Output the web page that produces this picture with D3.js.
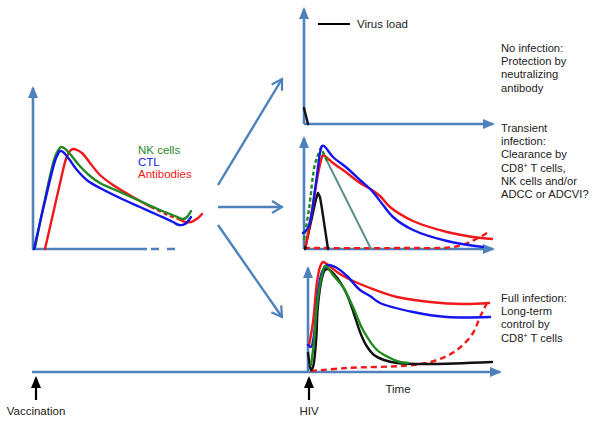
<!DOCTYPE html>
<html><head><meta charset="utf-8">
<script src="https://cdn.jsdelivr.net/npm/d3@7"></script>
<style>html,body{margin:0;padding:0;background:#fff;}svg{display:block;font-family:"Liberation Sans",Arial,Helvetica,sans-serif;}</style>
</head><body>
<svg id="c" width="600" height="422"></svg>
<script>
// ---- DATA (time offset, level) ----
// Vaccination panel
const vacNK   = [[2,1],[12,50],[22,92],[26,100],[28,102],[31,101],[37,95],[45,85],[57,73],[67,66],[87,57],[107,48],[127,39],[142,33],[150,30],[154,32],[158,38]];
const vacCTL  = [[1,0],[12,48],[22,88],[25,95],[27,98],[30,97],[36,90],[44,79],[55,68],[67,61],[87,51],[107,42],[127,33],[140,27],[146,24],[152,25],[158,32]];
const vacAbA  = [[12,0],[20,35],[28,70],[33,90],[37,98],[40,100],[44,99],[50,95],[57,86],[67,74],[80,64],[100,52],[118,42]];
const vacAbB  = [[118,42],[135,34],[148,29]];
const vacAbC  = [[148,29],[152,27],[158,27],[165,31],[169,35]];
// No infection panel
const noVirus = [[0,16],[4,0]];
// Transient infection panel
const trCTL   = [[-1,16],[4,21],[11,59],[16,96],[18,103],[20,103],[29,92],[43,81],[56,69],[68,58],[79,44],[89,32],[109,19],[143,8],[179,2]];
const trAb    = [[2,4],[8,38],[14,75],[18,92],[19,94],[21,93],[29,86],[43,76],[56,66],[68,59],[76,53],[86,42],[109,28],[143,17],[169,12],[188,10]];
const trNK    = [[0,9],[5,40],[11,85],[16,99],[17,101],[19,97],[23,88]];
const trNKdecline = [[23,88],[67,0]];
const trVirus = [[1,0],[12,50],[14,56],[16,52],[18,40],[24,0]];
const trAbLate = [[0,1],[100,1],[149,2],[166,7],[183,16]];
// Full infection panel
const fiAb    = [[1,26],[5,50],[9,90],[12,105],[15,110],[20,107],[29,100],[39,94],[62,84],[89,75],[122,70],[155,68],[181,69]];
const fiCTL   = [[0,27],[3,25],[6,37],[10,80],[14,100],[18,106],[20,107],[29,104],[39,96],[52,82],[62,76],[72,69],[105,60],[139,55],[182,55]];
const fiNK    = [[3,7],[6,30],[9,67],[14,97],[17,106],[20,104],[25,97],[35,85],[45,65],[55,42],[69,22],[82,14],[92,10],[100,9]];
const fiVirus = [[0,19],[1,12],[3,2],[5,5],[8,30],[10,67],[14,94],[17,102],[20,103],[26,98],[34,87],[40,75],[46,58],[52,40],[58,27],[66,17],[76,12],[89,9],[122,8],[184,10]];
const fiAbLate = [[3,1],[39,4],[105,7],[129,12],[149,22],[165,39],[172,55],[179,69]];
// Texts
const legendLabels = ["NK cells","CTL","Antibodies"];
const virusLabel = "Virus load";
const outcomeTexts = [
  ["No infection:","Protection by","neutralizing","antibody"],
  ["Transient","infection:","Clearance by","CD8|+| T cells,","NK cells and/or","ADCC or ADCVI?"],
  ["Full infection:","Long-term","control by","CD8|+| T cells"]
];
const eventLabels = ["Vaccination","HIV"];
const timeLabel = "Time";

// ---- STYLE ----
const C = {axis:"#4f81bd", nk:"#1f8a1f", ctl:"#1414ee", ab:"#f01818", virus:"#111", teal:"#5f8f8f", text:"#222"};
const svg = d3.select("#c");
const defs = svg.append("defs");
function tri(id,color){
  defs.append("marker").attr("id",id).attr("markerUnits","userSpaceOnUse")
    .attr("viewBox","0 0 12 10").attr("markerWidth",12).attr("markerHeight",10)
    .attr("refX",10).attr("refY",5).attr("orient","auto")
    .append("path").attr("d","M0,0L12,5L0,10Z").attr("fill",color);
}
tri("ah",C.axis); tri("bh","#000");
defs.append("marker").attr("id","oh").attr("markerUnits","userSpaceOnUse")
  .attr("viewBox","-1 -1 14 14").attr("markerWidth",14).attr("markerHeight",14)
  .attr("refX",11).attr("refY",6).attr("orient","auto")
  .append("path").attr("d","M1,0L11,6L1,12").attr("fill","none").attr("stroke",C.axis).attr("stroke-width",2.2);

function panel(ox,oy){
  return {x:d3.scaleLinear().domain([0,200]).range([ox,ox+200]),
          y:d3.scaleLinear().domain([0,120]).range([oy,oy-120])};
}
const P = {vac:panel(33,249), no:panel(304,124), tr:panel(304,249), fi:panel(308,372)};

function axisLine(x1,y1,x2,y2,arrow,dash){
  const l = svg.append("line").attr("x1",x1).attr("y1",y1).attr("x2",x2).attr("y2",y2)
    .attr("stroke",C.axis).attr("stroke-width",2.6);
  if(arrow) l.attr("marker-end","url(#ah)");
  if(dash) l.attr("stroke-dasharray",dash);
  return l;
}
// axes: vaccination panel
axisLine(P.vac.x(0),P.vac.y(0),P.vac.x(0),88,true);
axisLine(P.vac.x(0)-1,P.vac.y(0),P.vac.x(114),P.vac.y(0),false);
axisLine(P.vac.x(118),P.vac.y(0),P.vac.x(147),P.vac.y(0),false,"8,8");
// no infection
axisLine(P.no.x(0),P.no.y(0),P.no.x(0),9,true);
axisLine(P.no.x(0),P.no.y(0),493,P.no.y(0),true);
// transient
axisLine(P.tr.x(0),P.tr.y(0),P.tr.x(0),138,true);
axisLine(P.tr.x(0),P.tr.y(0),493,P.tr.y(0),true);
// full infection + main time axis
axisLine(P.fi.x(0),P.fi.y(0),P.fi.x(0),268,true);
axisLine(32,372,500,372,true);

// branching arrows
[[218,185,282,79],[218,207,282,207],[218,225,282,317]].forEach(a=>{
  svg.append("line").attr("x1",a[0]).attr("y1",a[1]).attr("x2",a[2]).attr("y2",a[3])
    .attr("stroke",C.axis).attr("stroke-width",2.4).attr("marker-end","url(#oh)");
});

function curve(p,data,color,opt={}){
  const line = d3.line().x(d=>p.x(d[0])).y(d=>p.y(d[1])).curve(opt.linear?d3.curveLinear:d3.curveCatmullRom.alpha(0.5));
  const path = svg.append("path").datum(data).attr("d",line).attr("fill","none")
    .attr("stroke",color).attr("stroke-width",opt.w||2.4).attr("stroke-linejoin","round").attr("stroke-linecap","round");
  if(opt.dash) path.attr("stroke-dasharray",opt.dash).attr("stroke-linecap","butt");
  return path;
}
// vaccination curves
curve(P.vac,vacAbA,C.ab); curve(P.vac,vacAbB,C.ab,{dash:"4,3"}); curve(P.vac,vacAbC,C.ab);
curve(P.vac,vacNK,C.nk);
curve(P.vac,vacCTL,C.ctl);
// no infection
curve(P.no,noVirus,C.virus,{linear:true});
// transient
curve(P.tr,trAbLate,C.ab,{dash:"6,4",linear:false});
curve(P.tr,trNKdecline,C.teal,{linear:true,w:2});
curve(P.tr,trVirus,C.virus,{linear:true});
curve(P.tr,trAb,C.ab);
curve(P.tr,trNK,C.nk,{dash:"4,2.5"});
curve(P.tr,trCTL,C.ctl);
// full infection
curve(P.fi,fiAbLate,C.ab,{dash:"6,4"});
curve(P.fi,fiAb,C.ab);
curve(P.fi,fiCTL,C.ctl);
curve(P.fi,fiVirus,C.virus);
curve(P.fi,fiNK,C.nk);

// legend in vaccination panel
const lc=[C.nk,C.ctl,C.ab];
legendLabels.forEach((t,i)=>{
  svg.append("text").attr("x",138).attr("y",154+i*12).attr("fill",lc[i]).attr("font-size",11.5).text(t);
});
// virus load legend
svg.append("line").attr("x1",318).attr("y1",24).attr("x2",350).attr("y2",24).attr("stroke","#000").attr("stroke-width",2);
svg.append("text").attr("x",357).attr("y",28).attr("fill",C.text).attr("font-size",11.5).text(virusLabel);

// outcome texts
const tops=[52,132,302];
outcomeTexts.forEach((lines,k)=>{
  lines.forEach((ln,i)=>{
    const t = svg.append("text").attr("x",501).attr("y",tops[k]+i*13.2).attr("fill",C.text).attr("font-size",11.2);
    const parts = ln.split("|");
    parts.forEach((p,j)=>{
      const ts = t.append("tspan").text(p);
      if(j===1){ ts.attr("font-size",7).attr("dy",-4); }
      if(j===2 && parts.length>2){ ts.attr("dy",4); }
    });
  });
});

// event arrows
[[36,eventLabels[0]],[309,eventLabels[1]]].forEach(e=>{
  svg.append("line").attr("x1",e[0]).attr("y1",400).attr("x2",e[0]).attr("y2",378)
    .attr("stroke","#000").attr("stroke-width",2.2).attr("marker-end","url(#bh)");
  svg.append("text").attr("x",e[0]).attr("y",415).attr("text-anchor","middle").attr("fill",C.text).attr("font-size",11.5).text(e[1]);
});
svg.append("text").attr("x",398).attr("y",393).attr("text-anchor","middle").attr("fill",C.text).attr("font-size",11.5).text(timeLabel);
</script>
</body></html>
